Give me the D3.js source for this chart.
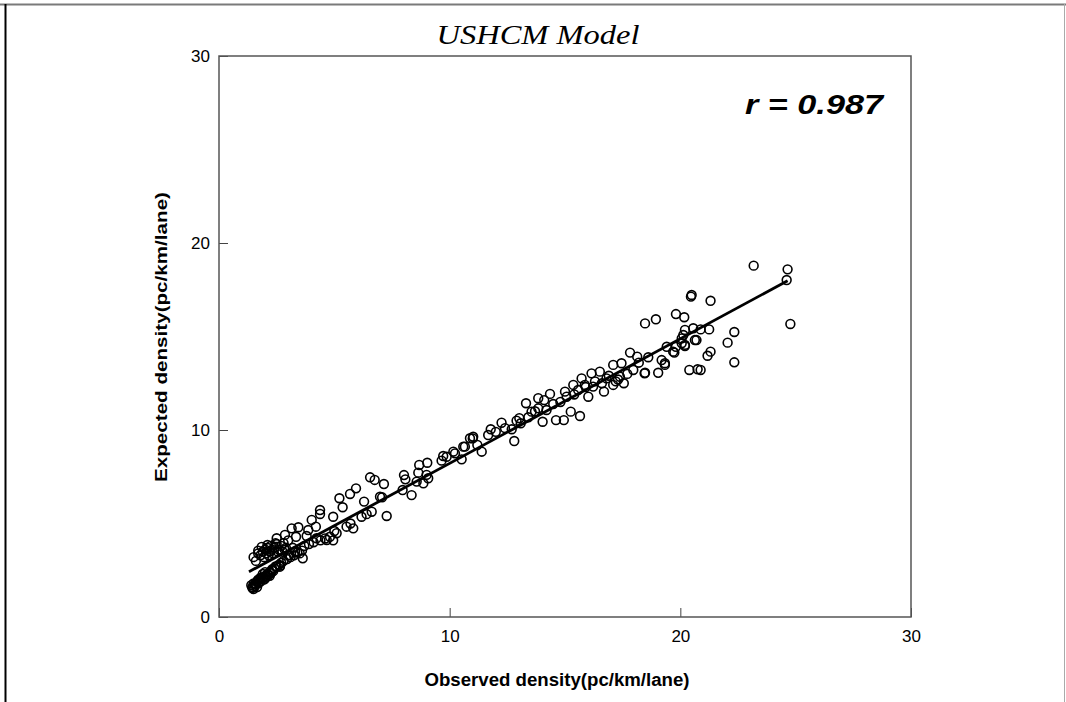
<!DOCTYPE html>
<html>
<head>
<meta charset="utf-8">
<script src="https://cdn.jsdelivr.net/npm/d3@7"></script>
<style>
  body { margin: 0; background: #fff; }
  svg { display: block; }
</style>
</head>
<body>
<div id="chart"></div>
<script>
// observed vs expected density
const obsX = [
  1.4,1.45,1.5,1.55,1.6,1.65,1.7,1.75,1.8,1.85,1.9,1.95,2.0,2.05,2.1,2.15,2.2,2.25,2.3,2.35,2.4,2.5,2.6,2.7,1.5,1.7,2.0,2.2,1.9,
  1.5,1.6,1.7,1.8,1.9,2.0,2.05,2.1,2.2,2.25,2.3,2.4,2.5,2.6,2.7,2.8,2.9,3.0,2.15,1.95,2.35,2.55,2.75,
  3.0,3.3,3.5,3.7,3.9,4.1,3.2,
  2.5,2.86,3.15,3.44,3.34,3.8,4.02,4.2,4.38,4.38,4.95,5.22,5.36,5.68,5.94,6.29,6.55,6.75,7.15,7.07,7.27,7.96,8.02,8.08,8.35,
  8.68,9.03,8.86,9.07,9.65,9.87,10.23,10.52,10.66,11.0,
  4.67,5.1,5.53,5.82,6.18,6.62,6.98,8.57,9.0,3.87,4.23,3.63,2.64,4.81,4.95,
  8.64,9.72,10.16,10.59,10.88,11.02,11.39,11.67,11.78,12.25,12.69,12.8,13.02,13.08,13.31,13.41,13.55,13.84,13.84,14.03,
  14.2,14.35,14.49,14.61,14.95,15.0,15.07,15.25,15.36,15.65,15.72,15.57,15.86,16.01,16.15,16.22,16.51,16.69,16.8,17.09,
  17.09,17.38,17.45,17.55,17.82,17.96,18.13,18.47,18.61,19.04,19.19,19.33,19.41,19.69,20.06,20.13,20.2,20.39,20.63,20.75,
  18.47,18.94,19.81,20.17,20.49,20.46,21.31,23.18,24.65,24.61,24.77,20.2,20.56,20.88,21.25,20.06,20.7,20.2,19.81,19.74,
  19.33,18.45,20.88,22.34,22.05,22.34,21.31,21.18,
  12.0,12.4,13.7,14.8,15.4,16.3,16.9,17.3,17.7,18.2,11.2,12.9,14.1,15.9,16.6,17.2,
  1.45,1.55,1.65,1.8,2.0,2.3,2.45,2.65,2.8,2.95,3.1,3.25,3.4,1.7,1.85,2.1,2.45,2.85,3.05,3.6,4.4,4.6,5.0,5.7,6.4
];
const expY = [
  1.7,1.55,1.8,1.65,1.75,1.9,1.8,2.0,1.9,2.05,2.1,2.0,2.2,2.15,2.3,2.25,2.4,2.35,2.5,2.45,2.6,2.7,2.8,2.9,1.5,2.0,2.4,2.2,2.3,
  3.2,3.0,3.4,3.3,3.5,3.6,3.4,3.7,3.5,3.8,3.6,3.7,3.9,3.6,3.8,3.95,3.7,4.1,3.3,3.2,3.4,3.5,3.5,
  3.3,3.5,3.4,3.8,3.9,4.0,3.7,
  4.21,4.39,4.74,4.8,4.29,4.33,5.19,4.83,5.72,5.51,5.36,6.35,5.87,6.58,6.88,6.17,7.47,7.33,7.11,6.4,5.4,6.79,7.59,7.36,6.52,
  8.13,8.25,7.15,7.42,8.36,8.57,8.75,8.43,9.11,9.55,
  4.12,4.48,4.83,4.74,5.36,5.63,6.43,7.24,7.6,4.65,4.21,3.14,2.69,4.29,4.1,
  7.72,8.61,8.84,9.11,9.56,9.64,8.84,9.73,10.04,10.39,10.04,9.41,10.63,10.36,11.43,10.68,10.98,11.7,11.16,10.44,
  11.07,11.93,11.39,10.53,10.53,12.05,11.78,10.98,12.41,10.75,12.76,12.14,12.41,11.78,13.03,12.32,13.12,12.05,12.76,13.48,
  12.41,12.85,13.57,12.5,14.14,13.21,13.92,13.06,13.89,13.06,13.74,13.57,14.45,14.19,14.64,15.08,14.55,13.21,14.81,13.25,
  15.7,15.92,16.2,16.03,17.22,17.13,16.91,18.79,18.59,18.02,15.67,15.35,15.44,15.38,15.38,14.9,14.81,14.49,14.45,14.14,
  13.48,13.03,13.21,13.62,14.67,15.24,14.19,13.97,
  9.9,10.1,11.0,11.5,11.9,12.6,12.9,12.7,13.0,13.6,9.2,10.5,11.6,12.3,12.5,12.6,
  1.6,1.75,1.6,2.1,2.05,2.55,2.7,2.75,3.0,3.1,3.2,3.3,3.45,3.55,3.75,3.85,3.95,3.6,3.3,3.55,4.1,4.2,4.6,5.0,5.5
];
// fitted regression line end points
const fitX = [1.3, 24.65];
const fitY = [2.42, 17.98];
const xTicks = [0, 10, 20, 30];
const yTicks = [0, 10, 20, 30];

const W = 1066, H = 702;
const margin = {top: 56, right: 155, bottom: 85, left: 219},
    width = W - margin.left - margin.right,
    height = H - margin.top - margin.bottom;

const svg = d3.select("#chart").append("svg")
    .attr("width", W)
    .attr("height", H);

// outer frame of the picture
svg.append("line").attr("x1", 0).attr("x2", W).attr("y1", 4.5).attr("y2", 4.5)
    .attr("stroke", "#7a7a7a").attr("stroke-width", 2);
svg.append("line").attr("x1", 5.5).attr("x2", 5.5).attr("y1", 4).attr("y2", H)
    .attr("stroke", "#000").attr("stroke-width", 2);
svg.append("line").attr("x1", 1064.5).attr("x2", 1064.5).attr("y1", 4).attr("y2", H)
    .attr("stroke", "#aaa").attr("stroke-width", 1);

const x = d3.scaleLinear().domain([0, 30]).range([0, width]),
    y = d3.scaleLinear().domain([0, 30]).range([height, 0]);

const g = svg.append("g")
    .attr("transform", "translate(" + margin.left + "," + margin.top + ")");

g.append("g")
    .attr("transform", "translate(0," + height + ")")
    .call(d3.axisBottom(x).tickValues(xTicks).tickSizeInner(-9).tickSizeOuter(0).tickPadding(13))
    .call(a => a.select(".domain").remove())
    .call(a => a.selectAll("line").attr("stroke", "#444"))
    .call(a => a.selectAll("text").attr("font-size", 17).attr("font-family", "Liberation Sans, Arial, sans-serif").attr("fill", "#000"));

g.append("g")
    .call(d3.axisLeft(y).tickValues(yTicks).tickSizeInner(-9).tickSizeOuter(0).tickPadding(9))
    .call(a => a.select(".domain").remove())
    .call(a => a.selectAll("line").attr("stroke", "#444"))
    .call(a => a.selectAll("text").attr("font-size", 17).attr("font-family", "Liberation Sans, Arial, sans-serif").attr("fill", "#000"));

// plot box
g.append("rect")
    .attr("width", width)
    .attr("height", height)
    .attr("fill", "none")
    .attr("stroke", "#555")
    .attr("stroke-width", 1.5);

// regression line
g.append("line")
    .attr("x1", x(fitX[0])).attr("y1", y(fitY[0]))
    .attr("x2", x(fitX[1])).attr("y2", y(fitY[1]))
    .attr("stroke", "#000")
    .attr("stroke-width", 2.8);

g.selectAll(".pt")
    .data(obsX.map((d, i) => ({x: d, y: expY[i]})))
    .enter().append("circle")
      .attr("class", "pt")
      .attr("cx", d => x(d.x))
      .attr("cy", d => y(d.y))
      .attr("r", 4.4)
      .attr("fill", "none")
      .attr("stroke", "#000")
      .attr("stroke-width", 1.6);

svg.append("text")
    .attr("x", 538).attr("y", 44)
    .attr("text-anchor", "middle")
    .attr("font-family", "Liberation Serif, DejaVu Serif, serif")
    .attr("font-style", "italic")
    .attr("font-size", 28)
    .attr("textLength", 203)
    .attr("lengthAdjust", "spacingAndGlyphs")
    .text("USHCM Model");

svg.append("text")
    .attr("x", 745).attr("y", 114)
    .attr("font-family", "Liberation Sans, Arial, sans-serif")
    .attr("font-style", "italic")
    .attr("font-weight", "bold")
    .attr("font-size", 27)
    .attr("textLength", 138)
    .attr("lengthAdjust", "spacingAndGlyphs")
    .text("r = 0.987");

svg.append("text")
    .attr("x", 557).attr("y", 686)
    .attr("text-anchor", "middle")
    .attr("font-family", "Liberation Sans, Arial, sans-serif")
    .attr("font-weight", "bold")
    .attr("font-size", 18)
    .attr("textLength", 265)
    .attr("lengthAdjust", "spacingAndGlyphs")
    .text("Observed density(pc/km/lane)");

svg.append("text")
    .attr("transform", "translate(167,337) rotate(-90)")
    .attr("text-anchor", "middle")
    .attr("font-family", "Liberation Sans, Arial, sans-serif")
    .attr("font-weight", "bold")
    .attr("font-size", 17)
    .attr("textLength", 290)
    .attr("lengthAdjust", "spacingAndGlyphs")
    .text("Expected density(pc/km/lane)");
</script>
</body>
</html>
